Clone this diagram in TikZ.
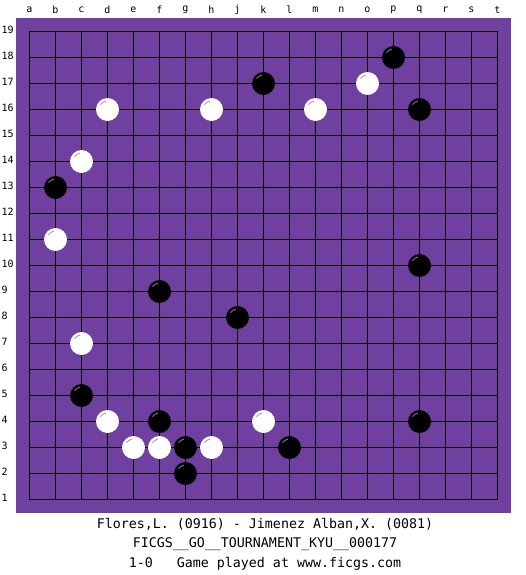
\documentclass[tikz,border=0pt]{standalone}
\usepackage{fontspec}
\setmonofont{DejaVu Sans Mono}
\usetikzlibrary{positioning,calc}
\definecolor{boardpurple}{RGB}{112,64,160}
\tikzset{
  coord label/.style={
    font=\ttfamily\fontsize{10}{12}\selectfont,
    inner sep=0pt
  },
  caption/.style={
    font=\ttfamily\fontsize{13.3}{16}\selectfont,
    inner sep=0pt
  },
  grid line/.style={
    black,
    line width=1pt
  },
  stone/.style={
    circle,
    inner sep=0pt,
    minimum size=23pt
  },
  black stone/.style={
    stone,
    fill=black,
    path picture={
      \draw[line width=1pt, black!55!white] ($(path picture bounding box.center)+(100:8.5pt)$) arc[start angle=100, end angle=145, radius=8.5pt];
    }
  },
  white stone/.style={
    stone,
    fill=white,
    path picture={
      \draw[line width=1pt, gray!70] ($(path picture bounding box.center)+(100:8.5pt)$) arc[start angle=100, end angle=145, radius=8.5pt];
    }
  }
}

\begin{document}
\begin{tikzpicture}[x=1pt, y=-1pt, node distance=20pt, on grid]
    \useasboundingbox (0,0) rectangle (525,575);
    \fill[boardpurple] (16,18) rectangle (511,513);
    % coordinates and labels
    \foreach \c [count=\i from 0] in {a,b,c,d,e,f,g,h,j,k,l,m,n,o,p,q,r,s,t} {
      \coordinate (col-\c) at (29.5+26*\i,0);
      \node[coord label] (let-\c) at (29.5+26*\i,10) {\c};
    }
    \foreach \r in {1,...,19} {
      \coordinate (row-\r) at (0,{31.5+26*(19-\r)});
      \node[coord label, anchor=west] (num-\r) at (1.5,{29.5+26*(19-\r)}) {\r};
    }
    % grid
    \foreach \c in {a,b,c,d,e,f,g,h,j,k,l,m,n,o,p,q,r,s,t}
      \draw[grid line] (col-\c |- row-19) -- (col-\c |- row-1);
    \foreach \r in {1,...,19}
      \draw[grid line] (col-a |- row-\r) -- (col-t |- row-\r);
    % stones
    \foreach \c/\r in {p/18,k/17,q/16,b/13,q/10,f/9,j/8,c/5,f/4,q/4,g/3,l/3,g/2}
      \node[black stone] (b-\c\r) at (col-\c |- row-\r) {};
    \foreach \c/\r in {o/17,d/16,h/16,m/16,c/14,b/11,c/7,d/4,k/4,e/3,f/3,h/3}
      \node[white stone] (w-\c\r) at (col-\c |- row-\r) {};
    % game info
    \node[caption] (players) at (265,524) {Flores,L. (0916) - Jimenez Alban,X. (0081)};
    \node[caption] (event) [below=of players] {FICGS\_\_GO\_\_TOURNAMENT\_KYU\_\_000177};
    \node[caption] (result) [below=of event] {1-0\ \ \ Game played at www.ficgs.com};
\end{tikzpicture}
\end{document}
